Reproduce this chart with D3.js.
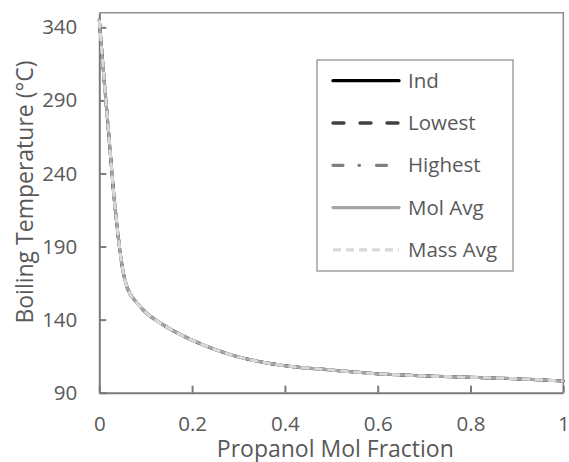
<!DOCTYPE html>
<html>
<head>
<meta charset="utf-8">
<script src="https://cdn.jsdelivr.net/npm/d3@7"></script>
<style>
  body { margin: 0; background: #fff; }
  svg { display: block; font-family: "Open Sans", sans-serif; }
</style>
</head>
<body>
<div class="chart"></div>
<script>
// propanol mol fraction (x) and boiling temperature (°C) per mixing rule
const molFraction = [0, 0.01, 0.02, 0.03, 0.04, 0.05, 0.06, 0.08, 0.1, 0.125, 0.15, 0.2, 0.25, 0.3, 0.35, 0.4, 0.5, 0.6, 0.7, 0.8, 0.9, 1.0];
const ind     = [345, 306, 268, 230, 199, 175, 162, 152, 145, 139, 134, 126, 119.5, 114.5, 111, 108.5, 105.5, 103, 101.5, 100.5, 99.5, 98];
const lowest  = [345, 306, 268, 230, 199, 175, 162, 152, 145, 139, 134, 126, 119.5, 114.5, 111, 108.5, 105.5, 103, 101.5, 100.5, 99.5, 98];
const highest = [345, 306, 268, 230, 199, 175, 162, 152, 145, 139, 134, 126, 119.5, 114.5, 111, 108.5, 105.5, 103, 101.5, 100.5, 99.5, 98];
const molAvg  = [345, 306, 268, 230, 199, 175, 162, 152, 145, 139, 134, 126, 119.5, 114.5, 111, 108.5, 105.5, 103, 101.5, 100.5, 99.5, 98];
const massAvg = [345, 306, 268, 230, 199, 175, 162, 152, 145, 139, 134, 126, 119.5, 114.5, 111, 108.5, 105.5, 103, 101.5, 100.5, 99.5, 98];

const seriesNames = ['Ind', 'Lowest', 'Highest', 'Mol Avg', 'Mass Avg'];
const xTicks = [0, 0.2, 0.4, 0.6, 0.8, 1];
const yTicks = [90, 140, 190, 240, 290, 340];

const series = [
    {name: 'Ind', values: ind, color: '#000000', dash: null, cap: 'round'},
    {name: 'Lowest', values: lowest, color: '#404040', dash: '11,16', cap: 'round'},
    {name: 'Highest', values: highest, color: '#7f7f7f', dash: '10,16,0.5,17', cap: 'round'},
    {name: 'Mol Avg', values: molAvg, color: '#a6a6a6', dash: null, cap: 'round'},
    {name: 'Mass Avg', values: massAvg, color: '#d9d9d9', dash: '8,5', cap: 'butt'}
];

const W = 569, H = 462;
const margin = {top: 12.7, right: 5.7, bottom: 69.3, left: 99.3};
const width = W - margin.left - margin.right,
      height = H - margin.top - margin.bottom;

const xScale = d3.scaleLinear().domain([0, 1]).range([0, width]);
const yScale = d3.scaleLinear().domain([90, 350]).range([height, 0]);

const svg = d3.select('.chart')
    .append('svg')
    .attr('width', W)
    .attr('height', H)
    .append('g')
    .attr('transform', 'translate(' + margin.left + ',' + margin.top + ')');

// plot border (top / right)
svg.append('path')
    .attr('d', `M0,0H${width}V${height}`)
    .attr('fill', 'none')
    .attr('stroke', '#8f8f8f')
    .attr('stroke-width', 1.6);

const xAxis = d3.axisBottom(xScale)
    .tickValues(xTicks)
    .tickFormat(d3.format('~g'))
    .tickSizeInner(-7)
    .tickSizeOuter(0)
    .tickPadding(24);

const yAxis = d3.axisLeft(yScale)
    .tickValues(yTicks)
    .tickSizeInner(-7)
    .tickSizeOuter(0)
    .tickPadding(22);

const gx = svg.append('g')
    .attr('class', 'axis x-axis')
    .attr('transform', `translate(0, ${height})`)
    .call(xAxis);

const gy = svg.append('g')
    .attr('class', 'axis y-axis')
    .call(yAxis);

[gx, gy].forEach(g => {
    g.select('.domain').attr('stroke', '#7a7a7a').attr('stroke-width', 2);
    g.selectAll('.tick line').attr('stroke', '#7a7a7a').attr('stroke-width', 2);
    g.selectAll('.tick text')
        .attr('fill', '#595959')
        .attr('font-size', 20.5)
        .attr('font-family', '"Open Sans", sans-serif');
});

const line = d3.line()
    .x((d, i) => xScale(molFraction[i]))
    .y(d => yScale(d))
    .curve(d3.curveMonotoneX);

svg.selectAll('.series')
    .data(series)
    .enter()
    .append('path')
    .attr('class', 'series')
    .attr('fill', 'none')
    .attr('stroke', d => d.color)
    .attr('stroke-width', 3)
    .attr('stroke-linecap', d => d.cap)
    .attr('stroke-linejoin', 'round')
    .attr('stroke-dasharray', d => d.dash)
    .attr('d', d => line(d.values));

// axis titles
svg.append('text')
    .attr('x', width / 2 + 4)
    .attr('y', height + 64)
    .attr('text-anchor', 'middle')
    .attr('font-size', 23)
    .attr('fill', '#595959')
    .text('Propanol Mol Fraction');

svg.append('text')
    .attr('transform', `translate(${33 - margin.left}, ${192 - margin.top}) rotate(-90)`)
    .attr('text-anchor', 'middle')
    .attr('font-size', 23)
    .attr('fill', '#595959')
    .text('Boiling Temperature (°C)');

// legend
const legend = svg.append('g')
    .attr('transform', `translate(${317 - margin.left}, ${60 - margin.top})`);

legend.append('rect')
    .attr('x', 0)
    .attr('y', 0)
    .attr('width', 196)
    .attr('height', 211)
    .attr('fill', '#fff')
    .attr('stroke', '#a0a0a0')
    .attr('stroke-width', 1.5);

const rowY = i => 20.7 + i * 42.3;

legend.selectAll('.lg-line')
    .data(series)
    .enter()
    .append('line')
    .attr('class', 'lg-line')
    .attr('x1', 16)
    .attr('x2', 82)
    .attr('y1', (d, i) => rowY(i))
    .attr('y2', (d, i) => rowY(i))
    .attr('stroke', d => d.color)
    .attr('stroke-width', 3.3)
    .attr('stroke-linecap', d => d.cap)
    .attr('stroke-dasharray', d => d.dash);

legend.selectAll('.lg-text')
    .data(seriesNames)
    .enter()
    .append('text')
    .attr('class', 'lg-text')
    .attr('x', 91)
    .attr('y', (d, i) => rowY(i))
    .attr('dy', '0.35em')
    .attr('font-size', 20.5)
    .attr('fill', '#595959')
    .text(d => d);
</script>
</body>
</html>
